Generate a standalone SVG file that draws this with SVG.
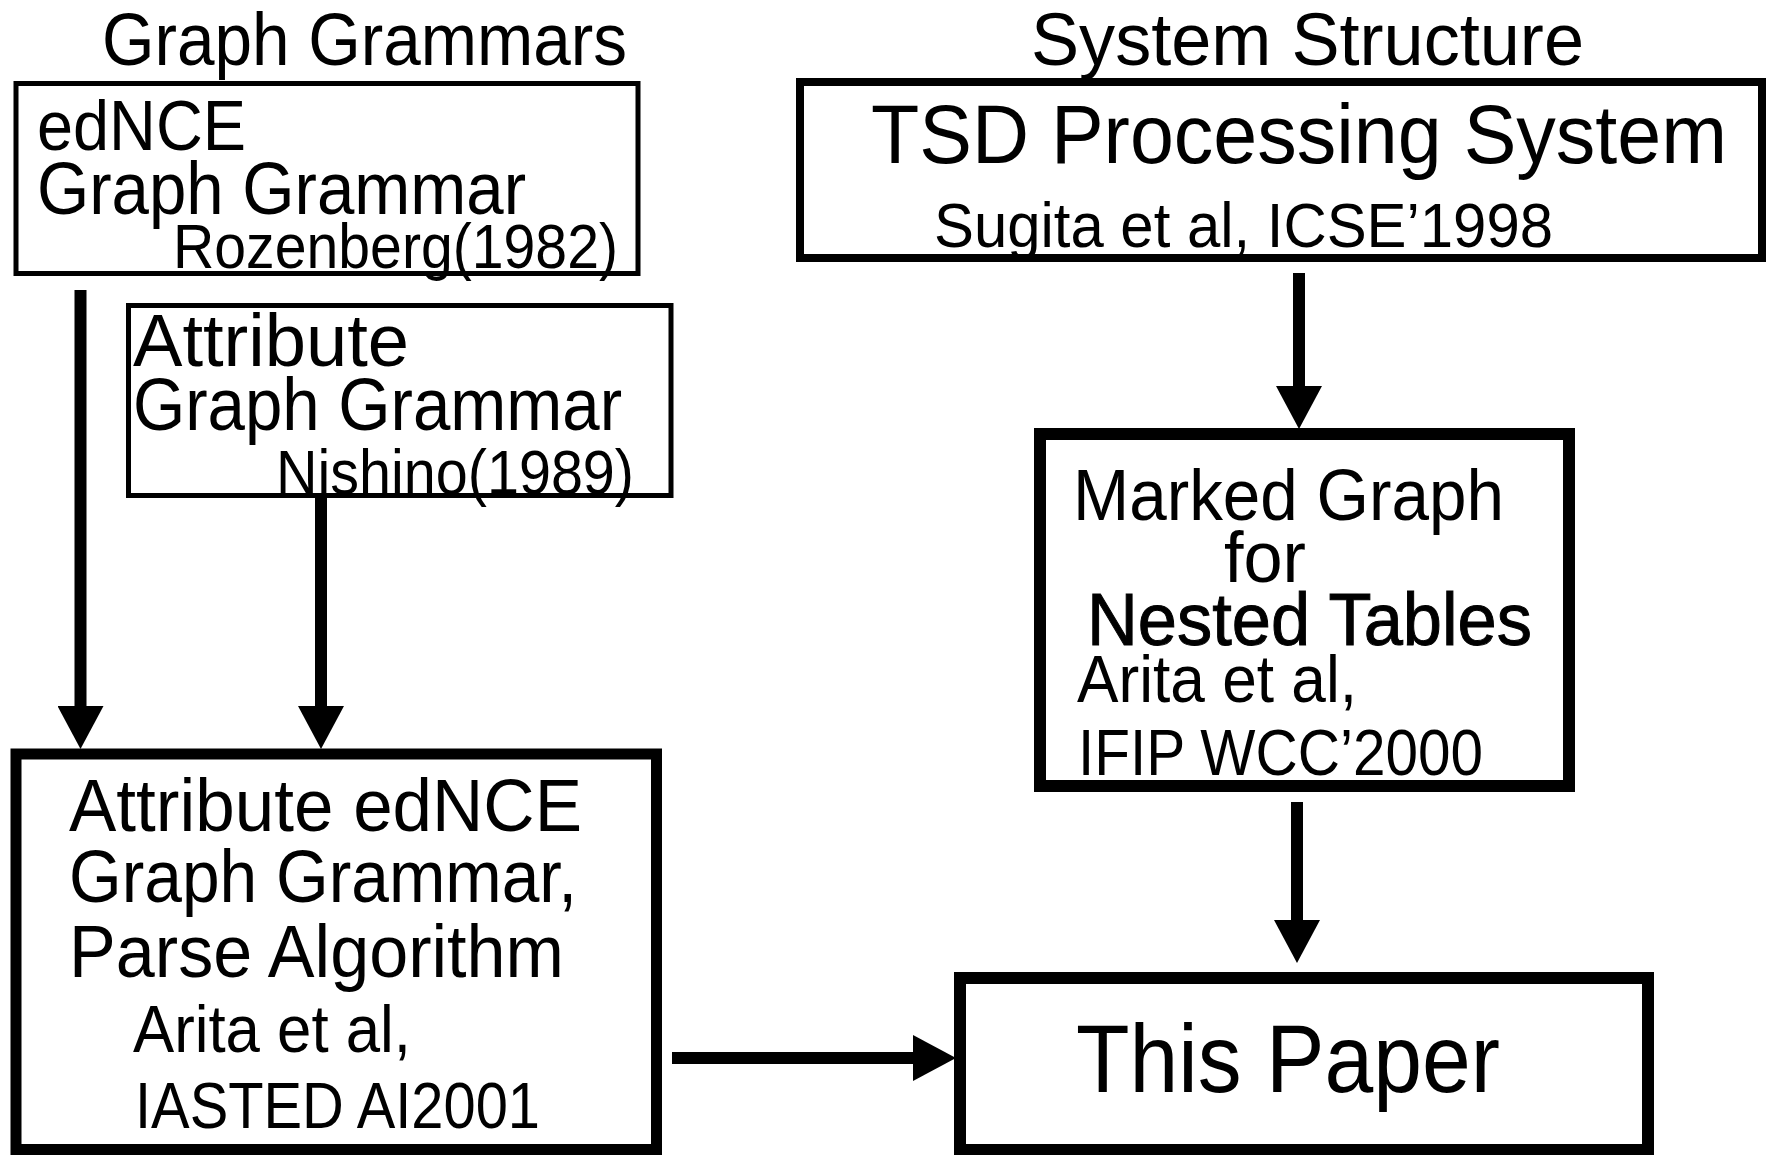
<svg xmlns="http://www.w3.org/2000/svg" width="1766" height="1155" viewBox="0 0 1766 1155">
  <style>
    text { font-family: "Liberation Sans", Arial, Helvetica, sans-serif; fill: #000; }
    .box { fill: #fff; stroke: #000; }
    .thin { stroke-width: 5; }
    .mid { stroke-width: 8; }
    .thick { stroke-width: 12; }
    .edge { stroke: #000; stroke-width: 12; fill: none; marker-end: url(#head); }
  </style>
  <defs>
    <marker id="head" viewBox="0 0 43 46" refX="0" refY="23" markerWidth="43" markerHeight="46" markerUnits="userSpaceOnUse" orient="auto">
      <path d="M0,0 L43,23 L0,46 Z" fill="#000"/>
    </marker>
  </defs>
  <rect width="1766" height="1155" fill="#fff"/>

  <!-- column headings -->
  <text id="title-grammars" x="102" y="65" font-size="74" textLength="525" lengthAdjust="spacingAndGlyphs">Graph Grammars</text>
  <text id="title-system" x="1031" y="65" font-size="74" textLength="553" lengthAdjust="spacingAndGlyphs">System Structure</text>

  <!-- connectors -->
  <g id="connectors">
    <line class="edge" x1="80.5" y1="290" x2="80.5" y2="706"/>
    <line class="edge" x1="321" y1="497" x2="321" y2="706"/>
    <line class="edge" x1="1299" y1="273" x2="1299" y2="386"/>
    <line class="edge" x1="1297" y1="802" x2="1297" y2="920"/>
    <line class="edge" x1="672" y1="1058" x2="913" y2="1058"/>
  </g>

  <g id="node-ednce">
    <rect class="box thin" x="16" y="83.5" width="622" height="190"/>
    <text x="37" y="150" font-size="71" textLength="209" lengthAdjust="spacingAndGlyphs">edNCE</text>
    <text x="37" y="214" font-size="74" textLength="489" lengthAdjust="spacingAndGlyphs">Graph Grammar</text>
    <text x="173" y="268" font-size="63" textLength="445" lengthAdjust="spacingAndGlyphs">Rozenberg(1982)</text>
  </g>

  <g id="node-attribute">
    <rect class="box thin" x="128.5" y="305.5" width="542.5" height="190"/>
    <text x="133" y="366" font-size="74" textLength="276" lengthAdjust="spacingAndGlyphs">Attribute</text>
    <text x="133" y="430" font-size="74" textLength="489" lengthAdjust="spacingAndGlyphs">Graph Grammar</text>
    <text x="276" y="494" font-size="63" textLength="358" lengthAdjust="spacingAndGlyphs">Nishino(1989)</text>
  </g>

  <g id="node-parse">
    <rect class="box" stroke-width="11" x="16" y="754" width="640.5" height="395.5"/>
    <text x="69" y="831" font-size="75" textLength="513" lengthAdjust="spacingAndGlyphs">Attribute edNCE</text>
    <text x="69" y="902" font-size="74" textLength="508" lengthAdjust="spacingAndGlyphs">Graph Grammar,</text>
    <text x="69" y="977" font-size="75" textLength="495" lengthAdjust="spacingAndGlyphs">Parse Algorithm</text>
    <text x="133" y="1052" font-size="66" textLength="278" lengthAdjust="spacingAndGlyphs">Arita et al,</text>
    <text x="135" y="1128" font-size="65" textLength="405" lengthAdjust="spacingAndGlyphs">IASTED AI2001</text>
  </g>

  <g id="node-tsd">
    <rect class="box mid" x="800" y="82" width="962" height="176"/>
    <text x="871" y="163" font-size="84" textLength="856" lengthAdjust="spacingAndGlyphs">TSD Processing System</text>
    <text x="934" y="247" font-size="63" textLength="619" lengthAdjust="spacingAndGlyphs">Sugita et al, ICSE’1998</text>
  </g>

  <g id="node-marked">
    <rect class="box thick" x="1040" y="434" width="529" height="352"/>
    <text x="1073" y="520" font-size="73" textLength="431" lengthAdjust="spacingAndGlyphs">Marked Graph</text>
    <text x="1224" y="582" font-size="73" textLength="82" lengthAdjust="spacingAndGlyphs">for</text>
    <text x="1087" y="645" font-size="74" textLength="445" lengthAdjust="spacingAndGlyphs" stroke="#000" stroke-width="1">Nested Tables</text>
    <text x="1077" y="702" font-size="66" textLength="280" lengthAdjust="spacingAndGlyphs">Arita et al,</text>
    <text x="1078" y="775" font-size="65" textLength="405" lengthAdjust="spacingAndGlyphs">IFIP WCC’2000</text>
  </g>

  <g id="node-paper">
    <rect class="box thick" x="960" y="978" width="688" height="172"/>
    <text x="1076" y="1092" font-size="96" textLength="424" lengthAdjust="spacingAndGlyphs">This Paper</text>
  </g>
</svg>
